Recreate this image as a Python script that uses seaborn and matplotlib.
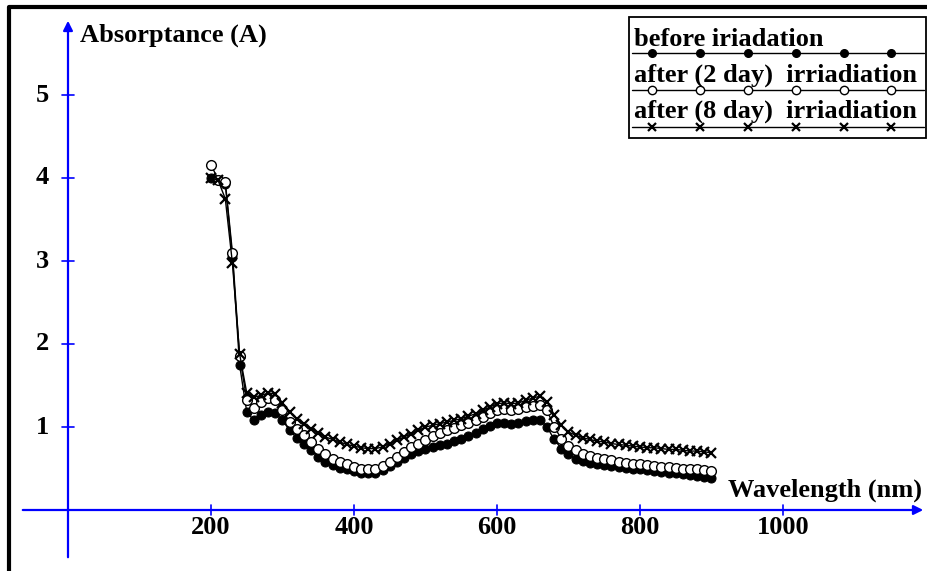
import numpy as np
import pandas as pd
import matplotlib
matplotlib.use("Agg")
import matplotlib.pyplot as plt
import seaborn as sns

wavelength = list(range(200, 901, 10))

before = [4.00, 3.97, 3.93, 3.05, 1.75, 1.18, 1.08, 1.14, 1.18, 1.17, 1.08, 0.96, 0.87, 0.80,
          0.72, 0.64, 0.58, 0.54, 0.51, 0.49, 0.47, 0.45, 0.44, 0.45, 0.48, 0.53, 0.58, 0.63,
          0.68, 0.71, 0.74, 0.76, 0.78, 0.80, 0.83, 0.86, 0.89, 0.93, 0.97, 1.01, 1.05, 1.05,
          1.04, 1.05, 1.07, 1.09, 1.09, 1.00, 0.85, 0.74, 0.67, 0.62, 0.59, 0.57, 0.55, 0.54,
          0.53, 0.52, 0.51, 0.50, 0.49, 0.48, 0.47, 0.46, 0.45, 0.44, 0.43, 0.42, 0.41, 0.40,
          0.39]
after2 = [4.16, 3.98, 3.95, 3.10, 1.85, 1.33, 1.23, 1.30, 1.35, 1.33, 1.20, 1.06, 0.97, 0.90,
          0.82, 0.73, 0.67, 0.62, 0.58, 0.55, 0.52, 0.50, 0.49, 0.50, 0.53, 0.58, 0.64, 0.70,
          0.76, 0.80, 0.84, 0.89, 0.93, 0.96, 0.99, 1.02, 1.05, 1.08, 1.12, 1.17, 1.21, 1.22,
          1.21, 1.22, 1.24, 1.25, 1.26, 1.20, 1.00, 0.86, 0.77, 0.72, 0.68, 0.65, 0.63, 0.61,
          0.60, 0.58, 0.57, 0.56, 0.55, 0.54, 0.53, 0.52, 0.52, 0.51, 0.50, 0.50, 0.49, 0.48,
          0.47]
after8 = [4.00, 3.97, 3.75, 2.97, 1.88, 1.41, 1.36, 1.38, 1.41, 1.40, 1.29, 1.18, 1.10, 1.04,
          0.98, 0.93, 0.88, 0.85, 0.82, 0.79, 0.77, 0.75, 0.74, 0.74, 0.76, 0.80, 0.84, 0.88,
          0.92, 0.96, 1.00, 1.02, 1.04, 1.06, 1.08, 1.10, 1.13, 1.16, 1.20, 1.24, 1.28, 1.29,
          1.28, 1.29, 1.32, 1.35, 1.37, 1.30, 1.15, 1.02, 0.94, 0.90, 0.87, 0.85, 0.83, 0.82,
          0.80, 0.79, 0.78, 0.77, 0.76, 0.75, 0.75, 0.74, 0.73, 0.73, 0.72, 0.71, 0.71, 0.70,
          0.69]

series_names = ["before iriadation", "after (2 day)  irriadiation", "after (8 day)  irriadiation"]
x_ticks = [200, 400, 600, 800, 1000]
y_ticks = [1, 2, 3, 4, 5]
x_label = "Wavelength (nm)"
y_label = "Absorptance (A)"

sns.set_theme(style="white")
plt.rcParams['font.family'] = ['Liberation Serif', 'DejaVu Serif']

W, H = 928, 571
fig = plt.figure(figsize=(W / 100, H / 100), dpi=100)
ax = fig.add_axes([0, 0, 1, 1])

# pixel mapping: x_px = 68 + 0.715*x ; y_px = 510 - 83*y
x0, sx = 68.0, 0.715
y0, sy = 510.0, 83.0
ax.set_xlim((0 - x0) / sx, (W - x0) / sx)
ax.set_ylim((y0 - H) / sy, y0 / sy)
ax.set_axis_off()

blue = "#0000ff"
tick_font = dict(fontsize=19, fontweight="bold", color="black")

styles = [
    dict(marker="o", markerfacecolor="black", markeredgecolor="black", markersize=6.5),
    dict(marker="o", markerfacecolor="white", markeredgecolor="black", markersize=7, markeredgewidth=1.0),
    dict(marker="x", markeredgecolor="black", markersize=6.5, markeredgewidth=1.6),
]
for vals, st in zip([before, after2, after8], styles):
    df = pd.DataFrame({"wl": wavelength, "A": vals})
    sns.lineplot(data=df, x="wl", y="A", ax=ax, color="black", linewidth=1.0,
                 zorder=3, **st)

# overlay axes in pixel coordinates for decorations
ov = fig.add_axes([0, 0, 1, 1], facecolor="none")
ov.set_xlim(0, W)
ov.set_ylim(H, 0)
ov.set_axis_off()

# figure border (left, top)
ov.plot([9, 9, W + 5], [H + 5, 7, 7], color="black", lw=3, solid_capstyle="butt")

# axes arrows
ov.annotate("", xy=(926, 510), xytext=(20, 510),
            arrowprops=dict(arrowstyle="-|>", color=blue, lw=1.6, mutation_scale=14))
ov.annotate("", xy=(68, 18), xytext=(68, 560),
            arrowprops=dict(arrowstyle="-|>", color=blue, lw=1.6, mutation_scale=14))

for t in x_ticks:
    px = x0 + sx * t
    ov.plot([px, px], [505, 515], color=blue, lw=1.2)
    ov.text(px, 528, str(t), ha="center", va="center", **tick_font)
for t in y_ticks:
    py = y0 - sy * t
    ov.plot([62, 74], [py, py], color=blue, lw=1.2)
    ov.text(49, py, str(t), ha="right", va="center", **tick_font)

ov.text(80, 35, y_label, ha="left", va="center", **tick_font)
ov.text(922, 490, x_label, ha="right", va="center", **tick_font)

# legend box
ov.add_patch(plt.Rectangle((629, 17), 297, 121, fill=False, edgecolor="black", lw=1.3))
leg_text_y = [39, 75, 111]
leg_line_y = [53, 90, 127]
mk_x = [652, 700, 748, 796, 844, 891]
for name, ty, ly, st in zip(series_names, leg_text_y, leg_line_y, styles):
    ov.text(634, ty, name, ha="left", va="center", **tick_font)
    ov.plot([632, 924], [ly, ly], color="black", lw=1.0)
    st2 = dict(st)
    st2["markersize"] = st["markersize"] - 1.0
    ov.plot(mk_x, [ly] * len(mk_x), linestyle="none", color="black", **st2)

fig.savefig("out.png", dpi=100)
